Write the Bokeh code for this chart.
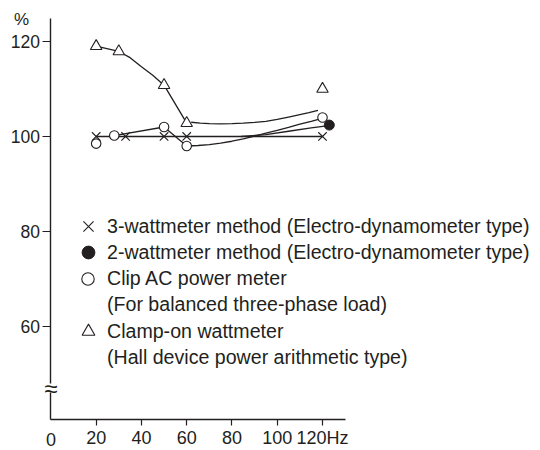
from bokeh.plotting import figure
from bokeh.models import Range1d, FixedTicker, Label, Legend, LegendItem, BoxAnnotation
from bokeh.core.properties import value
from bokeh.embed import file_html
from bokeh.resources import INLINE

FONT = "Liberation Sans"
INK = "#231f20"

# ---- measured points (frequency in Hz, reading in %) ----
w3_freq = [20, 33, 50, 60, 120]
w3_pct = [100.0, 100.0, 100.0, 100.0, 100.0]
w2_freq = [123]
w2_pct = [102.4]
clip_freq = [20, 28, 50, 60, 120]
clip_pct = [98.5, 100.2, 102.0, 98.0, 104.0]
clamp_freq = [20, 30, 50, 60, 120]
clamp_pct = [119.0, 117.9, 110.8, 102.8, 110.0]

# ---- trend lines as drawn in the chart ----
w3_line_freq = [20, 120]
w3_line_pct = [100.0, 100.0]
w2_line_freq = [84, 95, 105, 115, 121]
w2_line_pct = [100.0, 100.4, 101.1, 101.8, 102.2]
clip_line_freq = [28, 50, 60, 65, 70, 75, 80, 85, 90, 95, 100, 105, 110, 115, 119]
clip_line_pct = [100.2, 102.0, 98.0, 98.1, 98.3, 98.6, 99.0, 99.5, 100.1, 100.7,
                 101.3, 101.9, 102.6, 103.2, 103.7]
clamp_line1_freq = [20, 30]
clamp_line1_pct = [119.0, 117.9]
clamp_line2_freq = [30, 35, 40, 45, 50, 60]
clamp_line2_pct = [117.9, 116.6, 114.7, 112.9, 110.8, 102.8]
clamp_line3_freq = [62, 66, 70, 75, 80, 85, 90, 95, 100, 105, 110, 114, 118]
clamp_line3_pct = [103.0, 102.8, 102.7, 102.65, 102.7, 102.8, 102.95, 103.2, 103.6,
                   104.1, 104.6, 105.0, 105.5]

x_ticks = [20, 40, 60, 80, 100, 120]
y_ticks = [60, 80, 100, 120]
x_tick_labels = {120: "120Hz"}
x_axis_span = (0, 130)
y_axis_span = (40.42, 124.84)
y_break = 47.0
y_break_gap = (46.1, 48.0)

labels = [
    "3-wattmeter method (Electro-dynamometer type)",
    "2-wattmeter method (Electro-dynamometer type)",
    "Clip AC power meter",
    "(For balanced three-phase load)",
    "Clamp-on wattmeter",
    "(Hall device power arithmetic type)",
]

W, H = 540, 450
# The frame fills the whole canvas; the axes sit at fixed data positions.
p = figure(width=W, height=H, x_range=Range1d(-22.27, 216.32),
           y_range=Range1d(33.89, 128.63),
           output_backend="svg", toolbar_location=None,
           min_border_left=0, min_border_right=0, min_border_top=0, min_border_bottom=0)
p.grid.visible = False
p.outline_line_color = None
p.background_fill_color = "white"
p.border_fill_color = "white"

for ax in (p.xaxis[0], p.yaxis[0]):
    ax.axis_line_color = INK
    ax.axis_line_width = 1.4
    ax.major_tick_line_color = INK
    ax.major_tick_line_width = 1.2
    ax.minor_tick_line_color = None
    ax.major_tick_in = 0
    ax.major_label_text_font = FONT
    ax.major_label_text_color = INK

p.xaxis.fixed_location = y_axis_span[0]
p.xaxis.bounds = x_axis_span
p.xaxis.ticker = FixedTicker(ticks=x_ticks)
p.xaxis.major_label_overrides = x_tick_labels
p.xaxis.major_tick_out = 6
p.xaxis.major_label_standoff = 3
p.xaxis.major_label_text_font_size = "18px"

p.yaxis.fixed_location = x_axis_span[0]
p.yaxis.bounds = y_axis_span
p.yaxis.ticker = FixedTicker(ticks=y_ticks)
p.yaxis.major_tick_out = 8
p.yaxis.major_label_standoff = 3
p.yaxis.major_label_text_font_size = "17.5px"

lw = 1.3
p.line(w3_line_freq, w3_line_pct, line_color=INK, line_width=lw)
p.line(w2_line_freq, w2_line_pct, line_color=INK, line_width=lw)
p.line(clip_line_freq, clip_line_pct, line_color=INK, line_width=lw)
p.line(clamp_line1_freq, clamp_line1_pct, line_color=INK, line_width=lw)
p.line(clamp_line2_freq, clamp_line2_pct, line_color=INK, line_width=lw)
p.line(clamp_line3_freq, clamp_line3_pct, line_color=INK, line_width=lw)

r_w3 = p.scatter(w3_freq, w3_pct, marker="x", size=12, line_color=INK, line_width=1.1)
r_w2 = p.scatter(w2_freq, w2_pct, marker="circle", size=10, fill_color=INK, line_color=INK)
r_clip = p.scatter(clip_freq, clip_pct, marker="circle", size=9.5, fill_color="white",
                   line_color=INK, line_width=1.1)
r_clamp = p.scatter(clamp_freq, clamp_pct, marker="triangle", size=11.5, fill_color="white",
                    line_color=INK, line_width=1.1)

# Legend: one row per line of text, so each marker can have its own size.
legend_rows = [  # (label, renderers, glyph box, row centre in px from top)
    (labels[0], [r_w3], 36, 226),
    (labels[1], [r_w2], 32, 252),
    (labels[2], [r_clip], 31, 279),
    (labels[3], [], 26, 304),
    (labels[4], [r_clamp], 32, 331),
    (labels[5], [], 26, 357),
]
GLYPH_CX, TEXT_X = 88, 107
for text, rends, g, cy in legend_rows:
    left = GLYPH_CX - g / 2
    leg = Legend(items=[LegendItem(label=value(text), renderers=rends)],
                 location=(int(round(left)), int(round(H - cy - g / 2))),
                 glyph_width=g, glyph_height=g, label_height=g, spacing=0,
                 label_standoff=int(round(TEXT_X - left - g)), padding=0, margin=0,
                 border_line_color=None, background_fill_alpha=0,
                 label_text_font=FONT, label_text_font_size="19.6px",
                 label_text_color=INK)
    p.add_layout(leg)

p.add_layout(Label(x=0, y=y_axis_span[1], x_offset=-29.4, y_offset=-1, text="%",
                   text_align="center", text_baseline="middle", text_font=FONT,
                   text_font_size="17px", text_color=INK))
p.add_layout(Label(x=0, y=y_axis_span[0], y_offset=-20, text="0", text_align="center",
                   text_baseline="middle", text_font=FONT, text_font_size="18px",
                   text_color=INK))
# axis break: a small gap in the axis line with a double tilde
p.add_layout(BoxAnnotation(left=-1.6, right=1.6, bottom=y_break_gap[0], top=y_break_gap[1],
                           fill_color="white", fill_alpha=1, line_color=None))
p.add_layout(Label(x=0, y=y_break, text="\u2248", text_align="center",
                   text_baseline="middle", text_font=FONT, text_font_size="24px",
                   text_color=INK))

open("out.html", "w").write(file_html(p, INLINE))
